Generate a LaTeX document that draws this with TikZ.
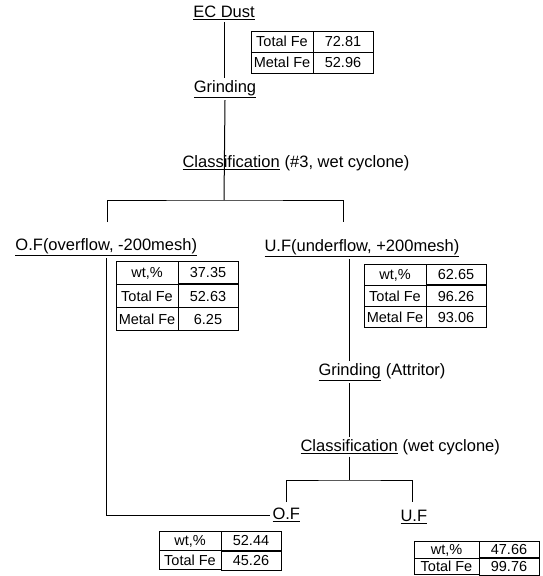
\documentclass[tikz,border=0pt]{standalone}
\usepackage{fontspec}
\setmainfont{Liberation Sans}
\usetikzlibrary{positioning, matrix}

\newcommand{\lblfont}{\fontsize{16.5}{19}\selectfont}
\newcommand{\tabfont}{\fontsize{14.5}{17}\selectfont}

\begin{document}
\begin{tikzpicture}[
        x=1pt, y=-1pt,
        line width=1pt,
        every node/.style={font=\lblfont, inner sep=2pt},
        datatable/.style={matrix of nodes, anchor=north west, inner sep=0pt,
            column sep=-1pt, row sep=-1pt,
            nodes={draw, font=\tabfont, minimum height=21pt, inner sep=1pt},
            column 1/.style={nodes={minimum width=62pt}},
            column 2/.style={nodes={minimum width=60pt}}}
    ]
    \useasboundingbox (0,0) rectangle (543,576);

    % Nodes
    \node (ec) at (224,13) {\underline{EC Dust}};
    \matrix (tabEC) [datatable] at (250,30) {
        Total Fe & 72.81 \\
        Metal Fe & 52.96 \\
    };
    \node (grind1) at (225,89) {\underline{Grinding}};
    \node (class1) [anchor=west] at (180,163) {\underline{Classification}};
    \node (class1note) [base right=0pt of class1] {(\#3, wet cyclone)};

    \node (ofA) [anchor=west] at (13,247) {\underline{O.F(overflow, -200mesh)}};
    \node (ufA) [anchor=west] at (262,248) {\underline{U.F(underflow, +200mesh)}};
    \matrix (tabOF) [datatable, nodes={minimum height=22.7pt}] at (115,260) {
        wt,\% & 37.35 \\
        Total Fe & 52.63 \\
        Metal Fe & 6.25 \\
    };
    \matrix (tabUF) [datatable, nodes={minimum height=20.7pt}] at (363,263) {
        wt,\% & 62.65 \\
        Total Fe & 96.26 \\
        Metal Fe & 93.06 \\
    };

    \node (grind2) [anchor=west] at (316,372) {\underline{Grinding}};
    \node (grind2note) [base right=0pt of grind2] {(Attritor)};
    \node (class2) [anchor=west] at (298,447) {\underline{Classification}};
    \node (class2note) [base right=0pt of class2] {(wet cyclone)};

    \node (ofB) [anchor=west] at (270,515) {\underline{O.F}};
    \node (ufB) [anchor=west] at (398,517) {\underline{U.F}};
    \matrix (tabOFb) [datatable, nodes={minimum height=19pt}] at (158,530) {
        wt,\% & 52.44 \\
        Total Fe & 45.26 \\
    };
    \matrix (tabUFb) [datatable, nodes={minimum height=16.5pt},
        column 1/.style={nodes={minimum width=65pt}}] at (413,540) {
        wt,\% & 47.66 \\
        Total Fe & 99.76 \\
    };

    % Junctions
    \coordinate (split1) at (224,200);
    \coordinate (dropOF) at (107,222);
    \coordinate (dropUF) at (343,222);
    \coordinate (split2) at (grind2.south |- 0,480);
    \coordinate (dropOFb) at (286,502);
    \coordinate (dropUFb) at (412,502);

    % Edges
    \draw (ec.south) -- (ec.south |- grind1.north);
    \draw (grind1.south) -- (split1);
    \draw (dropOF) |- (split1) -| (dropUF);
    \draw (ofA.south) |- (ofB.west);
    \draw (ufA.south -| grind2.south) -- (grind2.north);
    \draw (grind2.south) -- (grind2.south |- class2.north);
    \draw (grind2.south |- class2.south) -- (split2);
    \draw (dropOFb) |- (split2) -| (dropUFb);
\end{tikzpicture}
\end{document}
